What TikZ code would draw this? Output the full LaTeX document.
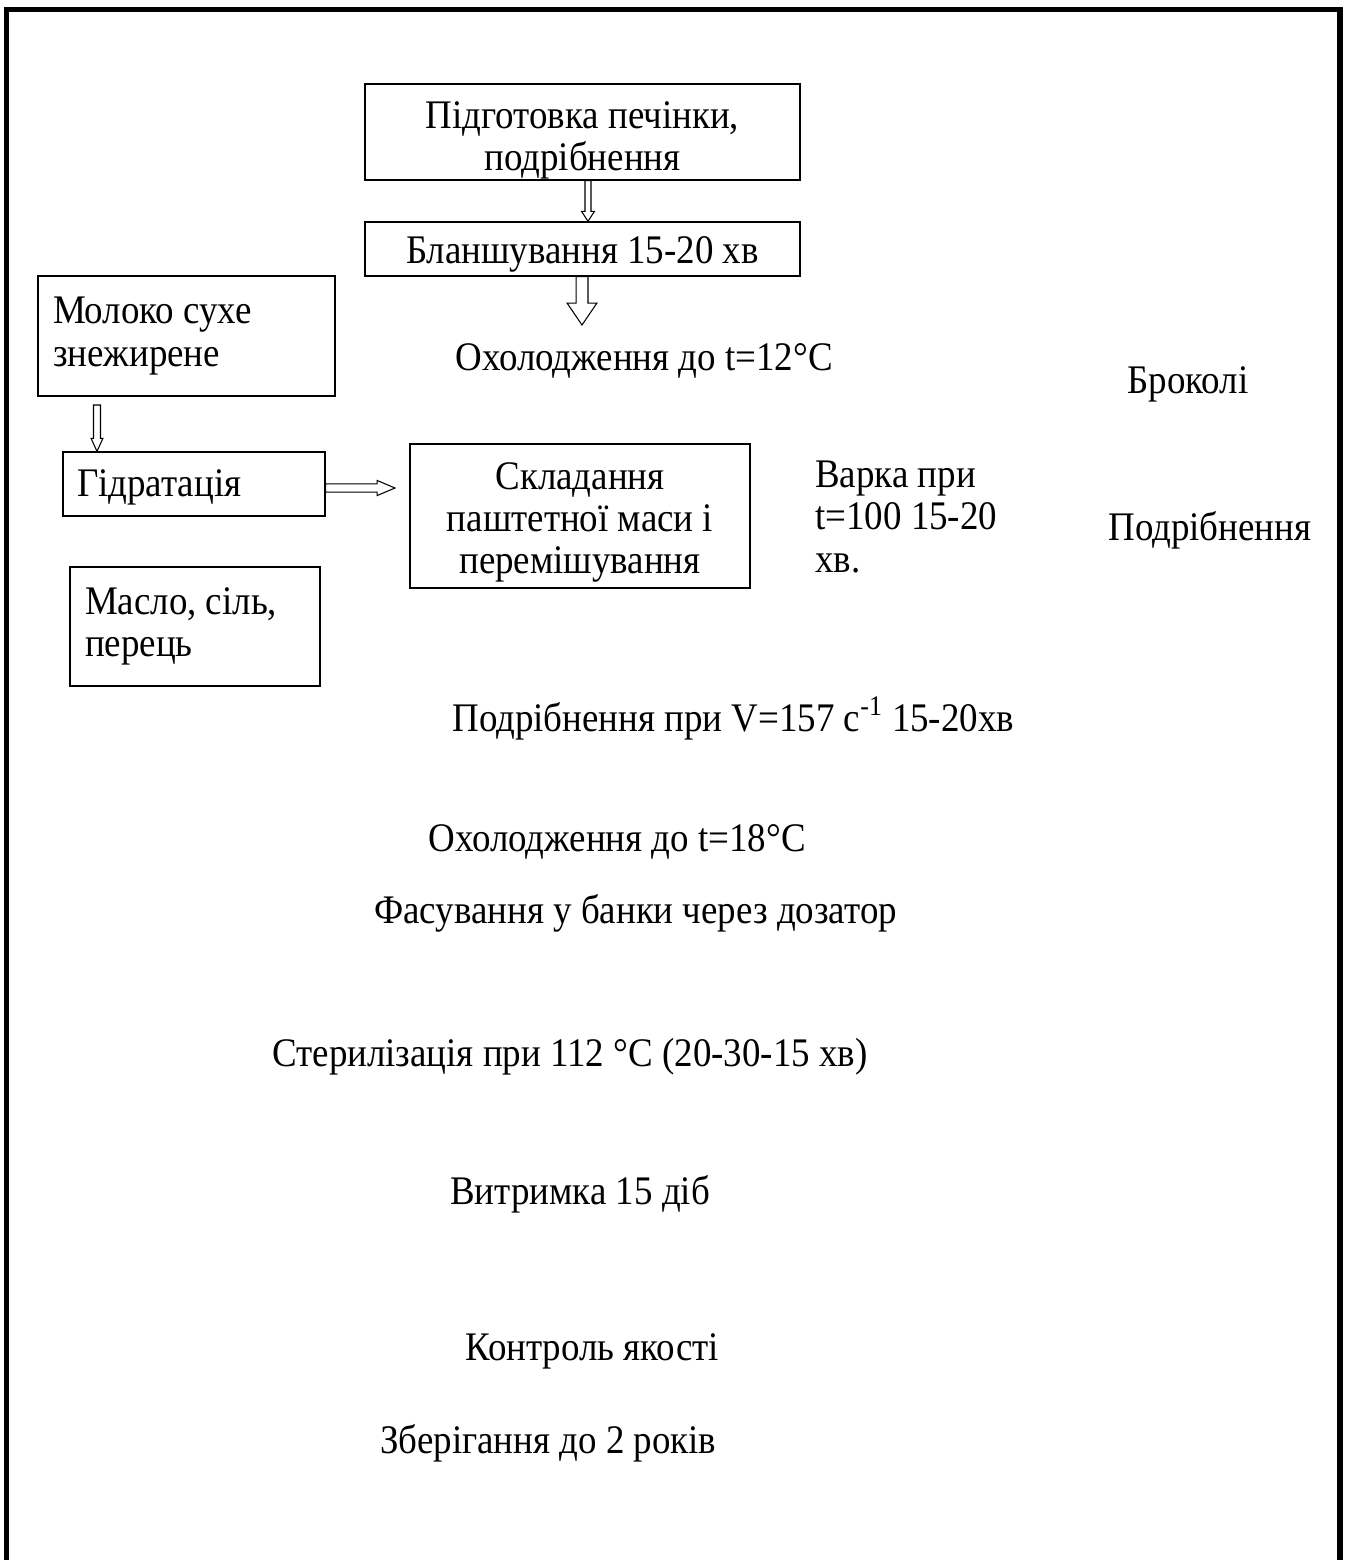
\documentclass[tikz,border=0pt]{standalone}
\usepackage{fontspec}
\setmainfont{Liberation Serif}[FakeStretch=0.91]
\usepackage{tikz}
\tikzset{every picture/.style={font issue=\fontsize{23.1pt}{24pt}},
         font issue/.style={execute at begin picture={#1\selectfont}}
        }
\usetikzlibrary{calc}
\usetikzlibrary{positioning}
\tikzstyle{stage}=[draw,line width=0.8pt,rectangle,align=flush center,inner sep=0]
\tikzstyle{stageleft}=[draw,line width=0.8pt,rectangle,align=flush left,inner ysep=0]
\tikzstyle{plain}=[anchor=base west,inner sep=0,align=flush left]
\tikzstyle{frame}=[draw,line width=3.4pt]
\tikzstyle{hollow}=[draw,line width=0.6pt,fill=white,line join=miter]
% start, end, shaft half width, head half width, head length
\newcommand{\hollowarrow}[5]{%
  \path[hollow] ($(#1)!#3!90:(#2)$)
    -- ($(#2)!#5!(#1)!#3!-90:(#1)$)
    -- ($(#2)!#5!(#1)!#4!-90:(#1)$)
    -- (#2)
    -- ($(#2)!#5!(#1)!#4!90:(#1)$)
    -- ($(#2)!#5!(#1)!#3!90:(#1)$)
    -- ($(#1)!#3!-90:(#2)$) -- cycle;}

\begin{document}
\begin{tikzpicture}[x=0.02cm,y=-0.02cm]
	\useasboundingbox (0,0) rectangle (1348,1560);
	\path[frame] (6.5,1580) -- (6.5,9.5) -- (1340,9.5) -- (1340,1580);

	\node[stage,minimum width=8.7cm,minimum height=1.92cm] (prep) at (582.5,132)
	{\rule{0pt}{25pt}Підготовка печінки,\\подрібнення};
	\node[stage,minimum width=8.7cm,minimum height=1.08cm] (blansh) at (582.5,249)
	{\rule{0pt}{21pt}Бланшування 15-20 хв};
	\node[plain] (cool1) at (455,370) {Охолодження до t=12°C};
	\node[plain] (broc) at (1127,393) {Броколі};

	\node[stageleft,text width=5.34cm,inner xsep=0.3cm,minimum height=2.4cm] (milk) at (186.5,336)
	{Молоко сухе\\знежирене};
	\node[stageleft,text width=4.68cm,inner xsep=0.28cm,minimum height=1.28cm] (hydr) at (194,484)
	{\rule{0pt}{19pt}Гідратація};
	\node[stage,minimum width=6.8cm,minimum height=2.88cm] (mix) at (580,516)
	{\rule{0pt}{22.5pt}Складання\\паштетної маси і\\перемішування};
	\node[plain] (boil) at (815,572) {Варка при\\t=100 15-20\\хв.};
	\node[plain] (grind1) at (1108,540) {Подрібнення};
	\node[stageleft,text width=4.4cm,inner xsep=0.3cm,minimum height=2.38cm] (oil) at (195,626.5)
	{Масло, сіль,\\перець};

	\node[plain] (grind2) at (452,731) {Подрібнення при V=157 с\textsuperscript{-1} 15-20хв};
	\node[plain] (cool2) at (428,851) {Охолодження до t=18°C};
	\node[plain] (pack) at (374,923) {Фасування у банки через дозатор};
	\node[plain] (steril) at (272,1066) {Стерилізація при 112 °С (20-30-15 хв)};
	\node[plain] (hold) at (450,1204) {Витримка 15 діб};
	\node[plain] (check) at (465,1360) {Контроль якості};
	\node[plain] (store) at (380,1453) {Зберігання до 2 років};

	\coordinate (a1s) at (prep.south -| 588,0);
	\coordinate (a1e) at (blansh.north -| 588,0);
	\coordinate (a2s) at (blansh.south -| 582,0);
	\coordinate (a2e) at (582,325);
	\coordinate (a3s) at (97,405);
	\coordinate (a3e) at (hydr.north -| 97,0);
	\coordinate (a4s) at (hydr.east |- 0,488);
	\coordinate (a4e) at (395,488);

	\hollowarrow{a1s}{a1e}{1.7pt}{3.7pt}{5.7pt}
	\hollowarrow{a2s}{a2e}{3.4pt}{8.5pt}{12.5pt}
	\hollowarrow{a3s}{a3e}{2pt}{3.4pt}{7.4pt}
	\hollowarrow{a4s}{a4e}{2.3pt}{4.3pt}{10.2pt}

\end{tikzpicture}
\end{document}
